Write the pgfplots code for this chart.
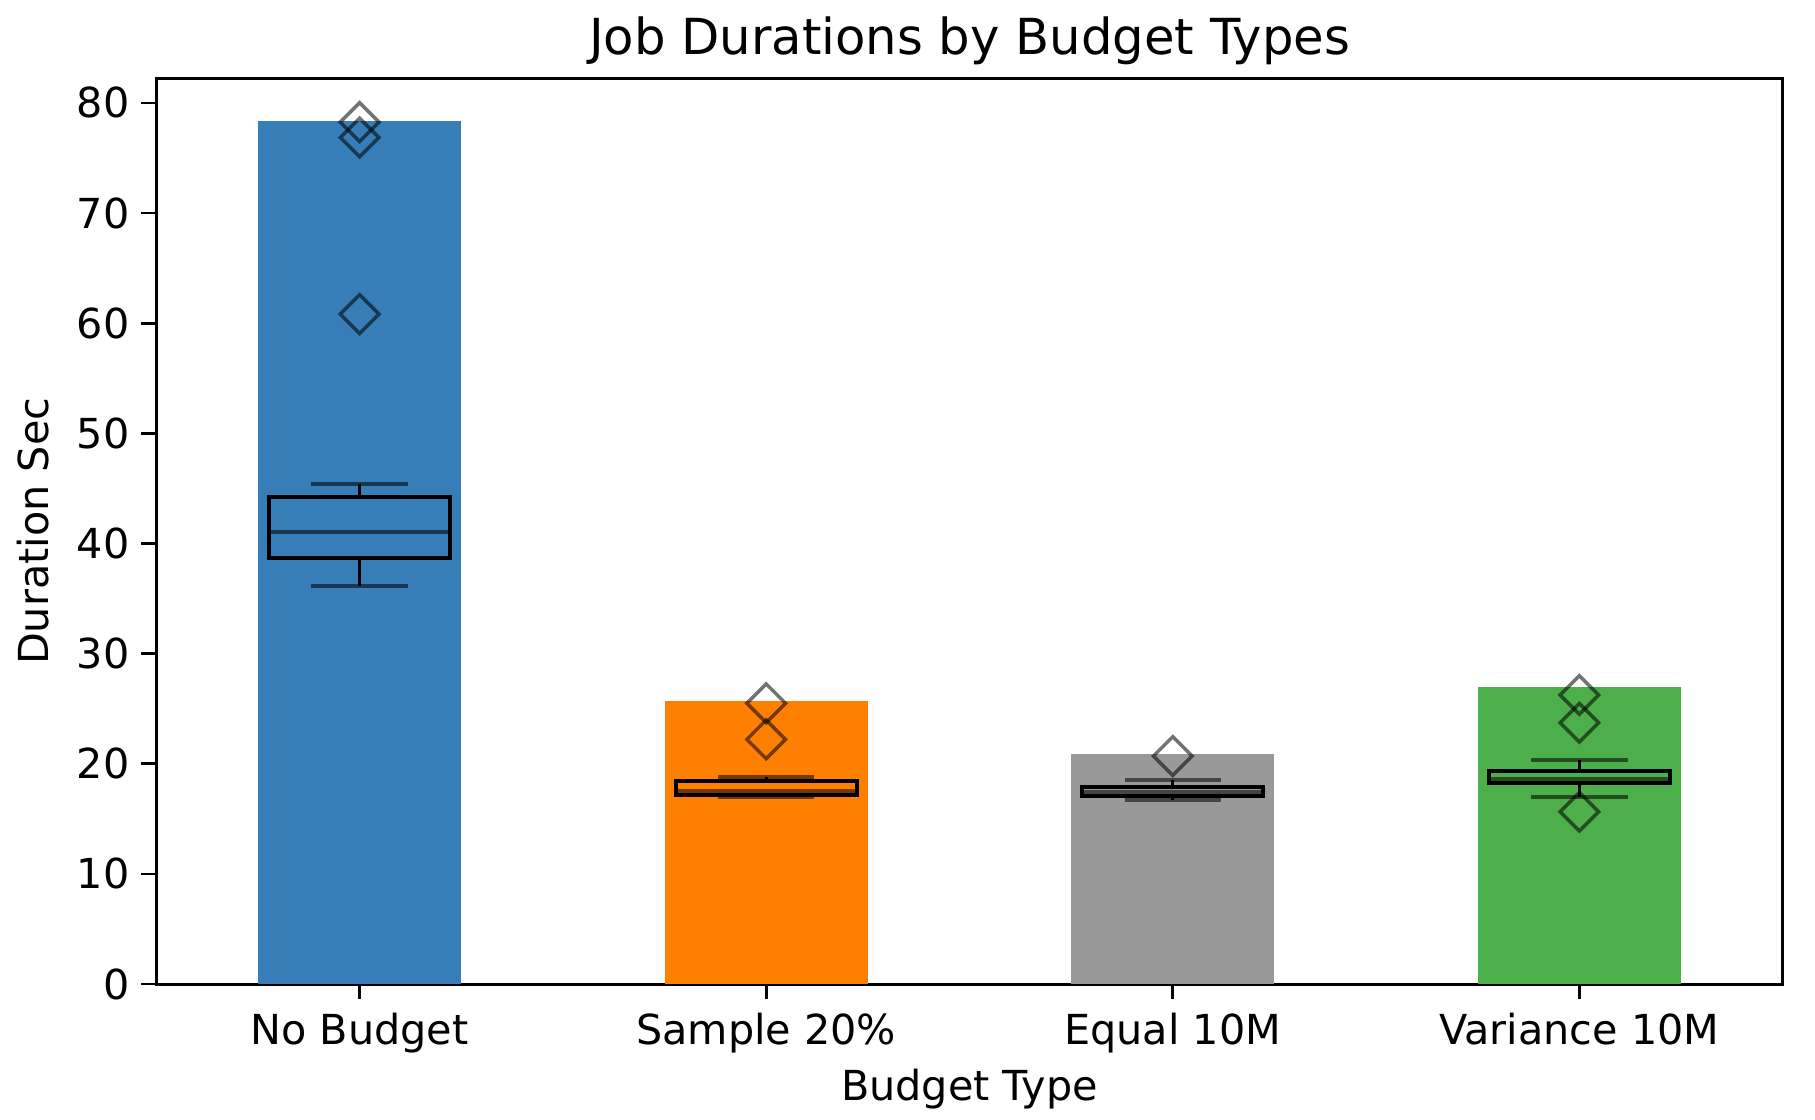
\documentclass[border=0pt]{standalone}
\usepackage{pgfplots}
\pgfplotsset{compat=1.18}
\usepackage{fontspec}
\setmainfont{DejaVu Sans}
\definecolor{c1}{RGB}{55,126,184}
\definecolor{c2}{RGB}{255,127,0}
\definecolor{c3}{RGB}{153,153,153}
\definecolor{c4}{RGB}{77,175,74}
\pgfplotsset{
  outl/.style={only marks, mark=square, mark size=4.1pt,
    mark options={rotate=45, draw=black, draw opacity=0.55, fill=none, line width=1.05pt}},
}
\begin{document}
\begin{tikzpicture}
\path[use as bounding box] (0,0) rectangle (544.5pt,335.7pt);
\begin{axis}[
  at={(46.9pt,40.5pt)}, anchor=south west,
  scale only axis, width=487.9pt, height=271.6pt,
  xmin=-0.5, xmax=3.5, ymin=0, ymax=82.2,
  unbounded coords=jump,
  xtick={0,1,2,3},
  xticklabels={No Budget, Sample 20\%, Equal 10M, Variance 10M},
  ytick={0,10,20,30,40,50,60,70,80},
  tick align=outside, tick pos=left,
  major tick length=4.5pt,
  every tick/.style={black, line width=0.8pt},
  axis line style={line width=0.9pt},
  /pgf/number format/assume math mode=true,
  tick label style={font=\fontsize{12.4}{14}\selectfont},
  xticklabel style={anchor=base, yshift=-13.6pt},
  yticklabel style={anchor=east},
  every axis title/.style={at={([yshift=7.4pt]axis description cs:0.5,1)}, anchor=base, font=\fontsize{14.9}{17}\selectfont},
  every axis x label/.style={at={([yshift=-34.8pt]axis description cs:0.5,0)}, anchor=base, font=\fontsize{12.4}{14}\selectfont},
  every axis y label/.style={at={([xshift=-32.3pt]axis description cs:0,0.5)}, rotate=90, anchor=base, font=\fontsize{12.4}{14}\selectfont},
  title={Job Durations by Budget Types},
  xlabel={Budget Type},
  ylabel={Duration Sec},
]
% bars
\addplot[ybar, bar width=0.5, bar shift=0pt, fill=c1, draw=none] coordinates {(0,78.37)};
\addplot[ybar, bar width=0.5, bar shift=0pt, fill=c2, draw=none] coordinates {(1,25.7)};
\addplot[ybar, bar width=0.5, bar shift=0pt, fill=c3, draw=none] coordinates {(2,20.88)};
\addplot[ybar, bar width=0.5, bar shift=0pt, fill=c4, draw=none] coordinates {(3,27.0)};
% medians (semi-transparent)
\addplot[black, opacity=0.55, line width=1.2pt, no marks] coordinates {
  (-0.223,41.04) (0.223,41.04) (0,nan)
  (0.777,17.55) (1.223,17.55) (1,nan)
  (1.777,17.46) (2.223,17.46) (2,nan)
  (2.777,18.58) (3.223,18.58)};
% whisker caps (semi-transparent)
\addplot[black, opacity=0.55, line width=1.2pt, no marks] coordinates {
  (-0.1185,45.4) (0.1185,45.4) (0,nan) (-0.1185,36.14) (0.1185,36.14) (0,nan)
  (0.8815,18.79) (1.1185,18.79) (1,nan) (0.8815,16.95) (1.1185,16.95) (1,nan)
  (1.8815,18.52) (2.1185,18.52) (2,nan) (1.8815,16.73) (2.1185,16.73) (2,nan)
  (2.8815,20.34) (3.1185,20.34) (3,nan) (2.8815,17.0) (3.1185,17.0)};
% whiskers (black)
\addplot[black, line width=1pt, no marks] coordinates {
  (0,44.2) (0,45.4) (0,nan) (0,38.71) (0,36.14) (0,nan)
  (1,18.43) (1,18.79) (1,nan) (1,17.19) (1,16.95) (1,nan)
  (2,17.88) (2,18.52) (2,nan) (2,17.04) (2,16.73) (2,nan)
  (3,19.31) (3,20.34) (3,nan) (3,18.22) (3,17.0)};
% boxes (black)
\addplot[black, line width=1.2pt, line join=miter, line cap=rect, no marks] coordinates {
  (-0.223,38.71) (0.223,38.71) (0.223,44.2) (-0.223,44.2) (-0.223,38.71) (0,nan)
  (0.777,17.19) (1.223,17.19) (1.223,18.43) (0.777,18.43) (0.777,17.19) (1,nan)
  (1.777,17.04) (2.223,17.04) (2.223,17.88) (1.777,17.88) (1.777,17.04) (2,nan)
  (2.777,18.22) (3.223,18.22) (3.223,19.31) (2.777,19.31) (2.777,18.22)};
% outliers
\addplot[outl] coordinates {(0,78.25) (0,76.86) (0,60.82)};
\addplot[outl] coordinates {(1,25.49) (1,22.21)};
\addplot[outl] coordinates {(2,20.70)};
\addplot[outl] coordinates {(3,26.24) (3,23.72) (3,15.64)};
\end{axis}
\end{tikzpicture}
\end{document}
